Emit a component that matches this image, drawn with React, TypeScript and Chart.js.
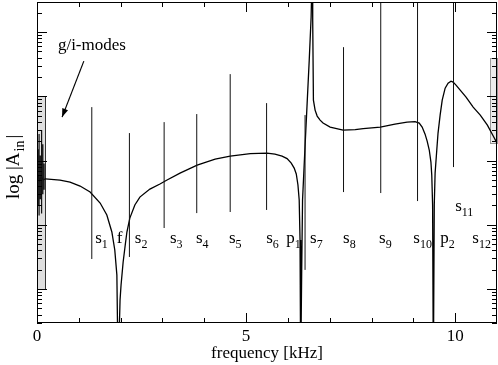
import React, { useEffect, useRef } from "react";
import { Chart, registerables } from "chart.js";
Chart.register(...registerables);

// response curve: frequency [kHz] and |A_in| (arbitrary units, log axis)
const curveFreq = [0, 0.03, 0.06, 0.1, 0.15, 0.2, 0.55, 0.79, 1.03, 1.27, 1.51, 1.67, 1.79, 1.86, 1.91, 1.94, 1.986, 2.01, 2.06, 2.11, 2.15, 2.22, 2.34, 2.46, 2.7, 2.94, 3.11, 3.42, 3.83, 4.26, 4.62, 5.1, 5.5, 5.69, 5.86, 5.98, 6.08, 6.15, 6.2, 6.24, 6.27, 6.29, 6.305, 6.33, 6.35, 6.41, 6.46, 6.51, 6.555, 6.585, 6.593, 6.61, 6.65, 6.7, 6.77, 6.84, 7.01, 7.32, 7.61, 7.8, 8.21, 8.56, 8.85, 9.04, 9.14, 9.21, 9.28, 9.33, 9.38, 9.42, 9.44, 9.46, 9.478, 9.5, 9.52, 9.56, 9.59, 9.64, 9.69, 9.76, 9.83, 9.9, 9.95, 10.02, 10.12, 10.26, 10.43, 10.6, 10.77, 10.91, 11.0];
const curveAmp = [53, 58, 49, 56, 50, 52, 49.7, 46.3, 40.1, 32.4, 21.8, 14.2, 7.71, 4.05, 1.65, 0.05, 0.674, 1.15, 2.63, 4.84, 7.71, 12.7, 20.3, 27.0, 36.0, 43.1, 49.7, 63.8, 85.1, 105.5, 117.5, 128.5, 131, 126, 117.5, 107.5, 91.4, 76.4, 61.7, 41.6, 24.3, 5.79, 0.05, 1.98, 24.3, 168, 785, 3665, 17100, 130000, 15400, 875, 611, 493, 427, 384, 332, 298, 304, 315, 332, 370, 397, 405, 384, 332, 258, 201, 146, 94.8, 59.4, 20.3, 0.05, 20.3, 63.8, 146, 268, 511, 875, 1343, 1608, 1727, 1667, 1497, 1250, 973, 680, 511, 357, 241, 187];

// s-mode markers (vertical lines)
const modeFreq = [1.31, 2.21, 3.04, 3.82, 4.62, 5.49, 6.41, 7.33, 8.22, 9.10, 9.96];
const modeTop = [680, 268, 397, 530, 2220, 785, 511, 5840, 100000, 100000, 100000];
const modeBottom = [2.93, 3.15, 8.9, 15.2, 15.8, 17, 1.98, 32.3, 31.2, 23.4, 79.2];

// dense g/i-mode spikes near zero frequency
const gFreq = [0.02, 0.05, 0.08, 0.11, 0.14, 0.17];
const gTop = [150, 260, 120, 300, 180, 90];
const gBottom = [20, 14, 25, 15, 30, 35];

// annotation labels
const labelMain = ["s", "f", "s", "s", "s", "s", "s", "p", "s", "s", "s", "s", "p", "s", "s"];
const labelSub = ["1", "", "2", "3", "4", "5", "6", "1", "7", "8", "9", "10", "2", "11", "12"];
const labelFreq = [1.39, 1.91, 2.34, 3.18, 3.8, 4.59, 5.48, 5.96, 6.53, 7.32, 8.18, 9.0, 9.64, 10.0, 10.41];
const labelAmp = [5.2, 5.2, 5.2, 5.2, 5.2, 5.2, 5.2, 5.2, 5.2, 5.2, 5.2, 5.2, 5.2, 16.4, 5.2];

const gLabel = "g/i-modes";
const gLabelPos = [0.5, 5250];
const arrowFrom = [1.12, 3540];
const arrowTo = [0.6, 475];

// shaded boxes at the plot edges: [fLo, fHi, ampLo, ampHi]
const grayBoxLeft = [0, 0.19, 1, 1000];
const grayBoxRight = [10.83, 11, 187, 3940];

// axes
const xMin = 0, xMax = 11;
const yMin = 0.295, yMax = 29500;
const xMajorTicks = [0, 5, 10];
const xMinorTicks = [1, 2, 3, 4, 6, 7, 8, 9];
const yDecades = [0.1, 1, 10, 100, 1000, 10000];
const xTitle = "frequency [kHz]";
const yTitleMain = "log |A";
const yTitleSub = "in";
const yTitleEnd = "|";

const FONT = "'Liberation Serif', 'Times New Roman', serif";

const decor = {
  id: "decor",
  beforeDatasetsDraw(chart: any) {
    const { ctx, scales } = chart;
    const x = scales.x, y = scales.y;
    const box = (b: number[], fill: string, stroke: string) => {
      const x0 = Math.round(x.getPixelForValue(b[0]));
      const x1 = Math.round(x.getPixelForValue(b[1]));
      const y0 = Math.round(y.getPixelForValue(b[3]));
      const y1 = Math.round(y.getPixelForValue(b[2]));
      ctx.fillStyle = fill;
      ctx.fillRect(x0, y0, x1 - x0, y1 - y0);
      ctx.strokeStyle = stroke;
      ctx.lineWidth = 1;
      ctx.strokeRect(x0 + 0.5, y0 + 0.5, x1 - x0, y1 - y0);
    };
    ctx.save();
    box(grayBoxLeft, "#dedede", "#333");
    box(grayBoxRight, "#ececec", "#999");
    ctx.restore();
  },
  afterDatasetsDraw(chart: any) {
    const { ctx, chartArea, scales } = chart;
    const x = scales.x, y = scales.y;
    const L = chartArea.left, R = chartArea.right, T = chartArea.top, B = chartArea.bottom;
    ctx.save();
    ctx.strokeStyle = "#000";
    ctx.lineWidth = 1;
    ctx.strokeRect(L + 0.5, T + 0.5, R - L - 1, B - T - 1);
    const vline = (px: number, len: number) => {
      const p = Math.round(px) + 0.5;
      ctx.beginPath();
      ctx.moveTo(p, B); ctx.lineTo(p, B - len);
      ctx.moveTo(p, T); ctx.lineTo(p, T + len);
      ctx.stroke();
    };
    const hline = (py: number, len: number) => {
      if (py < T - 0.5 || py > B + 0.5) return;
      const p = Math.round(py) + 0.5;
      ctx.beginPath();
      ctx.moveTo(L, p); ctx.lineTo(L + len, p);
      ctx.moveTo(R, p); ctx.lineTo(R - len, p);
      ctx.stroke();
    };
    xMajorTicks.forEach((v) => vline(x.getPixelForValue(v), 10));
    xMinorTicks.forEach((v) => vline(x.getPixelForValue(v), 5));
    yDecades.forEach((d) => {
      hline(y.getPixelForValue(d), 10);
      for (let k = 2; k <= 9; k++) hline(y.getPixelForValue(d * k), 5);
    });

    ctx.fillStyle = "#000";
    ctx.textBaseline = "alphabetic";
    // tick labels
    ctx.font = `17px ${FONT}`;
    ctx.textAlign = "center";
    xMajorTicks.forEach((v) => ctx.fillText(String(v), x.getPixelForValue(v), 341));
    ctx.fillText(xTitle, (L + R) / 2, 358);

    // y title
    ctx.save();
    ctx.translate(19, 199);
    ctx.rotate(-Math.PI / 2);
    ctx.textAlign = "left";
    ctx.font = `19px ${FONT}`;
    ctx.fillText(yTitleMain, 0, 0);
    let w = ctx.measureText(yTitleMain).width;
    ctx.font = `14px ${FONT}`;
    ctx.fillText(yTitleSub, w + 1, 5);
    w += ctx.measureText(yTitleSub).width + 3;
    ctx.font = `19px ${FONT}`;
    ctx.fillText(yTitleEnd, w, 0);
    ctx.restore();

    // mode labels
    ctx.textAlign = "left";
    labelMain.forEach((m, i) => {
      const px = x.getPixelForValue(labelFreq[i]);
      const py = y.getPixelForValue(labelAmp[i]);
      ctx.font = `17px ${FONT}`;
      ctx.fillText(m, px, py);
      const mw = ctx.measureText(m).width;
      if (labelSub[i]) {
        ctx.font = `12px ${FONT}`;
        ctx.fillText(labelSub[i], px + mw, py + 5);
      }
    });

    // g/i-modes label and arrow
    ctx.font = `17px ${FONT}`;
    ctx.fillText(gLabel, x.getPixelForValue(gLabelPos[0]), y.getPixelForValue(gLabelPos[1]));
    const ax0 = x.getPixelForValue(arrowFrom[0]), ay0 = y.getPixelForValue(arrowFrom[1]);
    const ax1 = x.getPixelForValue(arrowTo[0]), ay1 = y.getPixelForValue(arrowTo[1]);
    ctx.beginPath();
    ctx.moveTo(ax0, ay0); ctx.lineTo(ax1, ay1);
    ctx.lineWidth = 1.2;
    ctx.stroke();
    const ang = Math.atan2(ay1 - ay0, ax1 - ax0);
    const hl = 9, hw = 0.35;
    ctx.beginPath();
    ctx.moveTo(ax1, ay1);
    ctx.lineTo(ax1 - hl * Math.cos(ang - hw), ay1 - hl * Math.sin(ang - hw));
    ctx.lineTo(ax1 - hl * Math.cos(ang + hw), ay1 - hl * Math.sin(ang + hw));
    ctx.closePath();
    ctx.fill();
    ctx.restore();
  },
};

export default function App() {
  const ref = useRef<HTMLCanvasElement | null>(null);
  useEffect(() => {
    document.body.style.margin = "0";
    if (!ref.current) return;
    const curve = curveFreq.map((f, i) => ({ x: f, y: curveAmp[i] }));
    const modes: any[] = [];
    modeFreq.forEach((f, i) => {
      modes.push({ x: f, y: modeBottom[i] }, { x: f, y: modeTop[i] }, { x: f, y: null });
    });
    const gm: any[] = [];
    gFreq.forEach((f, i) => {
      gm.push({ x: f, y: gBottom[i] }, { x: f, y: gTop[i] }, { x: f, y: null });
    });
    const chart = new Chart(ref.current, {
      type: "line",
      data: {
        datasets: [
          { data: modes, borderColor: "#111", borderWidth: 1, pointRadius: 0, spanGaps: false, tension: 0 },
          { data: gm, borderColor: "#111", borderWidth: 1.2, pointRadius: 0, spanGaps: false, tension: 0 },
          { data: curve, borderColor: "#000", borderWidth: 1.3, pointRadius: 0, tension: 0 },
        ],
      },
      options: {
        animation: false,
        responsive: false,
        events: [],
        layout: { padding: { left: 37, right: 1, top: 2, bottom: 42 } },
        plugins: { legend: { display: false }, tooltip: { enabled: false } },
        scales: {
          x: { type: "linear", min: xMin, max: xMax, display: false, bounds: "data" },
          y: { type: "logarithmic", min: yMin, max: yMax, display: false, bounds: "data" },
        },
      },
      plugins: [decor],
    });
    return () => chart.destroy();
  }, []);
  return <canvas ref={ref} width={498} height={365} style={{ display: "block" }} />;
}
